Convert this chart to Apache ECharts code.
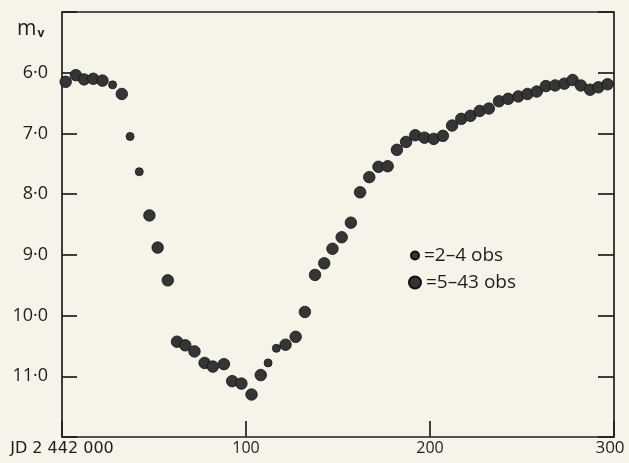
<!DOCTYPE html>
<html>
<head>
<meta charset="utf-8">
<script src="https://cdn.jsdelivr.net/npm/echarts@6/dist/echarts.min.js"></script>
<style>
html,body{margin:0;padding:0;background:#f6f3e8;}
#c{width:629px;height:463px;}
</style>
</head>
<body>
<div id="c"></div>
<script>
// Days after JD 2 442 000 and visual magnitudes
const largeDays = [2, 7.5, 12, 17, 22, 32.5, 47.5, 52, 57.5, 62.5, 67, 72, 77.5, 82, 88, 92.5, 97.5, 103, 108,
  121.5, 127, 132, 137.5, 142.5, 147, 152, 157, 162, 167, 172, 177, 182, 187, 192, 197, 202, 207,
  212, 217, 222, 227, 232, 237.5, 242.5, 248, 253, 258, 263, 268, 273, 277.5, 282, 287, 291.5, 296.5];
const largeMags = [6.15, 6.04, 6.11, 6.10, 6.13, 6.35, 8.35, 8.88, 9.42, 10.43, 10.49, 10.59, 10.78, 10.84, 10.80,
  11.08, 11.12, 11.30, 10.98, 10.48, 10.35, 9.94, 9.33, 9.14, 8.90, 8.71, 8.47, 7.97, 7.72, 7.55, 7.54,
  7.27, 7.14, 7.03, 7.07, 7.09, 7.04, 6.87, 6.76, 6.71, 6.63, 6.59, 6.47, 6.43, 6.39, 6.35, 6.31,
  6.22, 6.21, 6.18, 6.12, 6.21, 6.28, 6.24, 6.19];
const smallDays = [27.5, 37, 42, 112, 116.5];
const smallMags = [6.20, 7.05, 7.63, 10.78, 10.54];
const xTicks = [0, 100, 200, 300];
const xTickLabels = ['JD 2 442 000', '100', '200', '300'];
const yTicks = [6, 7, 8, 9, 10, 11];
const yTickLabels = ['6·0', '7·0', '8·0', '9·0', '10·0', '11·0'];
const seriesNames = ['=2–4 obs', '=5–43 obs'];

const zip = (a, b) => a.map((v, i) => [v, b[i]]);
const FONT = 'Open Sans';
const INK = '#1e1e1e';
const DOT = '#353535';

const chart = echarts.init(document.getElementById('c'), null, {renderer: 'canvas'});
chart.setOption({
  backgroundColor: '#f6f3e8',
  animation: false,
  title: {
    text: '{m|m}{v|v}',
    left: 17, top: 19, padding: 0,
    textStyle: {
      rich: {
        m: {fontFamily: FONT, fontSize: 21, color: INK, fontWeight: 500},
        v: {fontFamily: FONT, fontSize: 12, color: INK, fontWeight: 'bold', padding: [9, 0, 0, 1]}
      }
    }
  },
  grid: {left: 62, right: 15, top: 12, bottom: 26, show: true, borderColor: INK, borderWidth: 1.7, backgroundColor: 'transparent'},
  legend: [
    {
      data: [{name: seriesNames[0], icon: 'circle'}],
      left: 410, top: 246, padding: 0, itemWidth: 8, itemHeight: 8, itemGap: 0,
      textStyle: {fontFamily: FONT, fontSize: 19, color: INK}
    },
    {
      data: [{name: seriesNames[1], icon: 'circle'}],
      left: 408, top: 273, padding: 0, itemWidth: 12, itemHeight: 12, itemGap: 0,
      textStyle: {fontFamily: FONT, fontSize: 19, color: INK}
    }
  ],
  xAxis: {
    type: 'value', min: 0, max: 300, interval: 100,
    axisLine: {show: false},
    axisTick: {show: true, inside: true, length: 16, lineStyle: {color: INK, width: 1.7}},
    splitLine: {show: false},
    axisLabel: {
      fontFamily: FONT, fontSize: 16, color: INK, margin: 3,
      showMinLabel: true, showMaxLabel: true,
      formatter: v => {
        const i = xTicks.indexOf(v);
        if (i < 0) return '';
        if (i === 0) return '{j|' + xTickLabels[0] + '}';
        if (i === xTicks.length - 1) return '{e|' + xTickLabels[i] + '}';
        return xTickLabels[i];
      },
      rich: {
        j: {fontFamily: 'DejaVu Sans', fontSize: 16, color: INK, padding: [1, 0, 0, 0]},
        e: {fontFamily: FONT, fontSize: 17, color: INK, padding: [0, 8, 0, 0]}
      }
    }
  },
  yAxis: [
    {
      type: 'value', inverse: true, min: 5, max: 12, interval: 1, position: 'left',
      axisLine: {show: false},
      axisTick: {show: true, inside: true, length: 15, lineStyle: {color: INK, width: 1.7}},
      splitLine: {show: false},
      axisLabel: {
        fontFamily: FONT, fontSize: 18, color: INK, margin: 14,
        formatter: v => { const i = yTicks.indexOf(v); return i >= 0 ? yTickLabels[i] : ''; }
      }
    },
    {
      type: 'value', inverse: true, min: 5, max: 12, interval: 1, position: 'right',
      axisLine: {show: false},
      axisTick: {show: true, inside: true, length: 16, lineStyle: {color: INK, width: 1.7}},
      splitLine: {show: false},
      axisLabel: {show: false}
    }
  ],
  series: [
    {
      name: seriesNames[1], type: 'scatter', yAxisIndex: 0,
      symbol: 'circle', symbolSize: 11.5,
      itemStyle: {color: DOT, borderColor: '#111', borderWidth: 0.8, opacity: 1},
      data: zip(largeDays, largeMags)
    },
    {
      name: seriesNames[0], type: 'scatter', yAxisIndex: 0,
      symbol: 'circle', symbolSize: 8,
      itemStyle: {color: DOT, borderColor: '#111', borderWidth: 0.8, opacity: 1},
      data: zip(smallDays, smallMags)
    }
  ]
});
</script>
</body>
</html>
